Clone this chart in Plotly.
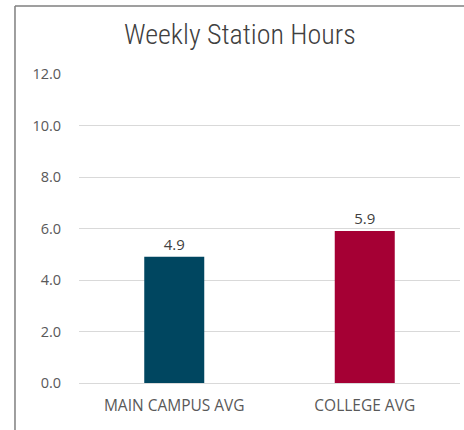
import plotly.graph_objects as go

categories = ["MAIN CAMPUS AVG", "COLLEGE AVG"]
hours = [4.9, 5.9]
bar_colors = ["#004660", "#A50034"]
tick_vals = [0, 2, 4, 6, 8, 10, 12]

fig = go.Figure(
    go.Bar(
        x=categories,
        y=hours,
        marker=dict(color=bar_colors, line=dict(width=0)),
        text=[f"{v:.1f}" for v in hours],
        textposition="outside",
        textfont=dict(family="Open Sans, Noto Sans, sans-serif", size=15, color="#404040"),
        cliponaxis=False,
    )
)

fig.update_layout(
    width=464,
    height=430,
    margin=dict(l=79, r=4, t=74, b=47, autoexpand=False),
    paper_bgcolor="white",
    plot_bgcolor="white",
    bargap=0.685,
    showlegend=False,
    title=dict(
        text="Weekly Station Hours",
        x=0.517,
        xanchor="center",
        y=0.921,
        yanchor="middle",
        font=dict(family="Roboto Condensed, Liberation Sans Narrow, sans-serif",
                  size=28, weight=300, color="#404040"),
    ),
    font=dict(family="Open Sans, Noto Sans, sans-serif", size=14, color="#595959"),
    shapes=[
        dict(type="line", xref="paper", yref="paper", x0=-0.168, x1=-0.168, y0=1.22, y1=-0.2,
             line=dict(color="#7f7f7f", width=1.5)),
        dict(type="line", xref="paper", yref="paper", x0=-0.168, x1=1.02, y0=1.22, y1=1.22,
             line=dict(color="#7f7f7f", width=1.5)),
    ],
)

fig.update_xaxes(
    automargin=False,
    showgrid=False,
    showline=False,
    ticks="outside",
    tickcolor="white",
    ticklen=8,
    tickfont=dict(size=15.5, color="#595959"),
)
fig.update_yaxes(
    automargin=False,
    range=[0, 12],
    tickvals=tick_vals,
    ticktext=[f"{v:.1f}" for v in tick_vals],
    showgrid=True,
    gridcolor="#d9d9d9",
    gridwidth=1.3,
    zeroline=True,
    zerolinecolor="#d9d9d9",
    zerolinewidth=1.3,
    ticks="outside",
    tickcolor="white",
    ticklen=14,
    tickfont=dict(size=14.5, color="#595959"),
)

# drop the default page margin so the figure sits at the window's corner
fig.write_html(
    "out.html",
    config={"displayModeBar": False},
    post_script="document.body.style.margin='0';",
)
